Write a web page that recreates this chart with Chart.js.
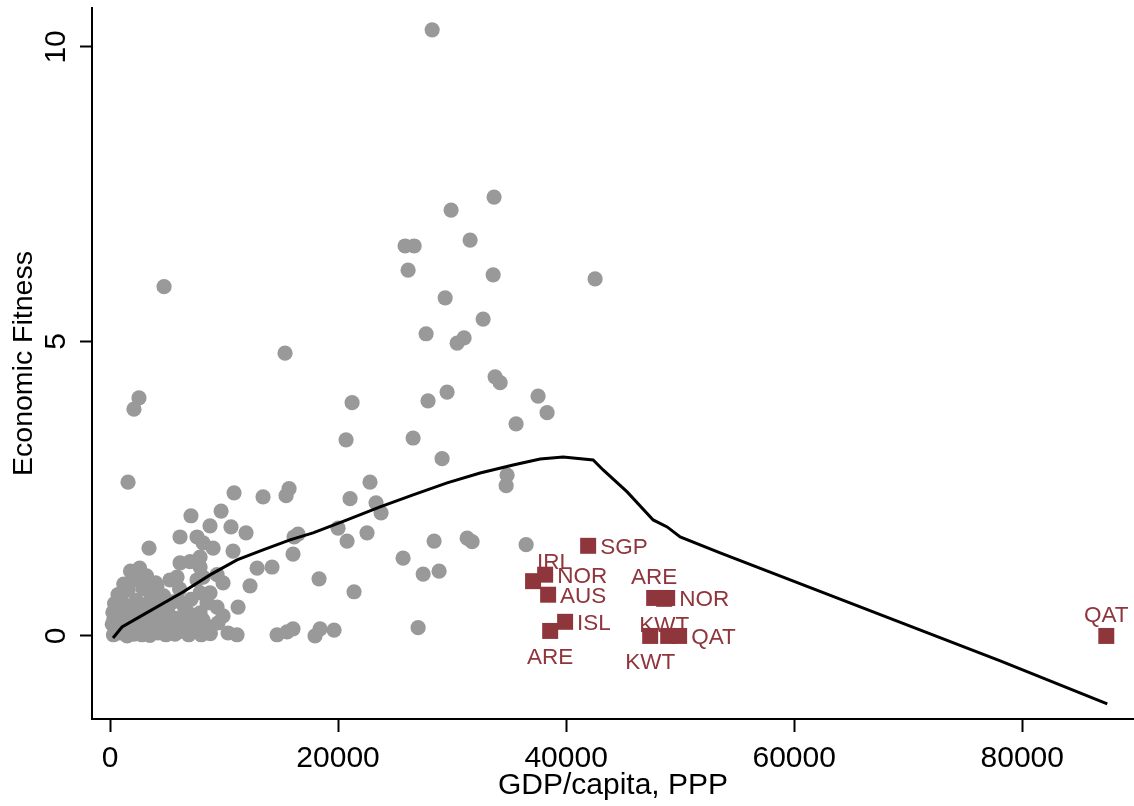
<!DOCTYPE html>
<html>
<head>
<meta charset="utf-8">
<script src="https://cdn.jsdelivr.net/npm/chart.js@4.4.1/dist/chart.umd.min.js"></script>
<style>
  html, body { margin: 0; padding: 0; background: #fff; }
  #wrap { width: 1134px; height: 806px; }
</style>
</head>
<body>
<div id="wrap"><canvas id="c" width="1134" height="806"></canvas></div>
<script>
// ---------- DATA ----------
const xTicks = [0, 20000, 40000, 60000, 80000];
const yTicks = [0, 5, 10];

// all countries (grey dots): GDP per capita PPP, Economic Fitness
const countryGdp = [
  28250, 33680, 29910, 31580, 25880, 26670, 26140, 33600, 42540, 4740,
  29390, 32720, 27720, 30440, 31050, 15350, 33770, 34210, 29560, 37540,
  2540, 27890, 21230, 2100, 38330, 35610, 26580, 20700, 29120, 34820,
  34740, 1580, 22800, 10880, 15700, 15440, 13420, 21050, 23330, 23770,
  9740, 7100, 8770, 10610, 20000, 11930, 22540, 6140, 7630, 16140,
  16490, 20790, 28420, 31320, 31750, 36490, 3420, 8160, 9040, 10790,
  16050, 25700, 12900, 14210, 27460, 28860, 18330, 21400, 12280, 11230,
  16050, 15530, 18420, 17980, 19650, 27020, 14650, 11140, 10350, 9390,
  9910, 7900, 7900, 6140, 7020, 5260, 5880, 4120, 7630, 8160,
  7900, 8770, 8510, 9390, 9910, 9470, 7900, 8160, 2370, 2900,
  2200,
  300, 350, 600, 500, 900, 1000, 1100, 1300, 1500, 1600,
  1700, 1900, 2000, 2100, 2300, 2400, 2600, 2700, 2800, 2900,
  3100, 3200, 3300, 3500, 3600, 3800, 4000, 4200, 4300, 4500,
  4700, 4900, 5100, 5300, 5500, 5700, 5900, 6100, 6300, 6500,
  6700, 6900, 7100, 7300, 7600, 8000, 8400, 8800, 1200, 1800,
  700, 400,
  200, 250, 800, 1400, 2500, 3000, 3900, 4600, 5400, 6000,
  7800, 6800
];
const countryFitness = [
  10.29, 7.45, 7.23, 6.72, 6.62, 6.62, 6.21, 6.13, 6.06, 5.93,
  5.74, 5.38, 5.13, 4.97, 5.06, 4.80, 4.40, 4.30, 4.14, 4.07,
  4.04, 3.99, 3.96, 3.85, 3.79, 3.60, 3.36, 3.33, 3.01, 2.73,
  2.55, 2.61, 2.61, 2.43, 2.50, 2.38, 2.36, 2.33, 2.26, 2.09,
  2.12, 2.04, 1.87, 1.85, 1.83, 1.75, 1.75, 1.68, 1.68, 1.68,
  1.73, 1.61, 1.61, 1.66, 1.60, 1.55, 1.49, 1.58, 1.49, 1.44,
  1.39, 1.32, 1.15, 1.17, 1.05, 1.10, 0.97, 0.75, 0.85, 0.49,
  0.12, 0.07, 0.12, 0.00, 0.10, 0.14, 0.02, 0.02, 0.05, 1.04,
  0.90, 1.34, 1.17, 1.24, 1.26, 0.95, 1.00, 0.83, 0.95, 1.00,
  0.73, 0.73, 0.56, 0.49, 0.34, 0.22, 0.39, 0.27, 1.09, 0.95,
  0.95,
  0.02, 0.30, 0.42, 0.15, 0.05, 0.62, 0.28, 0.50, 0.00, 0.78,
  0.18, 0.40, 0.95, 0.03, 0.60, 0.25, 1.15, 0.45, 0.02, 0.80,
  0.20, 1.02, 0.55, 0.01, 0.70, 0.35, 0.90, 0.05, 0.50, 0.22,
  0.68, 0.02, 0.40, 0.15, 0.58, 0.03, 0.30, 0.80, 0.08, 0.50,
  0.20, 0.02, 0.62, 0.35, 0.10, 0.02, 0.18, 0.04, 0.88, 1.10,
  0.70, 0.55,
  0.20, 0.40, 0.35, 0.15, 0.05, 0.38, 0.15, 0.35, 0.28, 0.60,
  0.25, 0.40
];

// highlighted countries (red squares)
const hlNames   = ['SGP', 'IRL', 'NOR', 'AUS', 'ISL', 'ARE', 'ARE', 'NOR', 'KWT', 'KWT', '', 'QAT', 'QAT'];
const hlGdp     = [41930, 37100, 38160, 38420, 39910, 38600, 47720, 48860, 48600, 47370, 48950, 49910, 87370];
const hlFitness = [1.53, 0.93, 1.04, 0.70, 0.24, 0.085, 0.645, 0.645, 0.63, 0.0, 0.0, 0.0, 0.0];
// label clock position (Stata style): 3 = right, 12 = above, 6 = below, 1 = upper right
const hlLabelClock = [3, 1, 3, 3, 3, 6, 12, 3, 6, 6, 3, 3, 12];

// fitted curve
const trendGdp = [263, 1053, 2895, 6404, 8772, 11140, 13421, 15789, 17807, 20789,
  23684, 26579, 29561, 32456, 35351, 37719, 39737, 42368, 43246, 45351,
  47632, 48860, 50000, 53509, 78070, 87456];
const trendFitness = [-0.034, 0.153, 0.357, 0.747, 1.036, 1.290, 1.460, 1.630, 1.749, 1.969,
  2.190, 2.394, 2.598, 2.767, 2.903, 3.005, 3.039, 2.988, 2.818, 2.445,
  1.969, 1.851, 1.681, 1.409, -0.424, -1.154];

// ---------- STYLE ----------
const RED = '#8f353c';
const GREY = '#999999';
const FONT = 'Liberation Sans';

const zip = (xs, ys) => xs.map((x, i) => ({ x: x, y: ys[i] }));

const labelPlugin = {
  id: 'hlLabels',
  afterDatasetsDraw(chart) {
    const meta = chart.getDatasetMeta(1);
    const ctx = chart.ctx;
    ctx.save();
    ctx.font = '22.5px "' + FONT + '"';
    ctx.fillStyle = RED;
    ctx.textBaseline = 'alphabetic';
    const capHalf = 8;
    meta.data.forEach((pt, i) => {
      const name = hlNames[i];
      if (!name) return;
      const pos = hlLabelClock[i];
      let x = pt.x, y = pt.y;
      if (pos === 3) { ctx.textAlign = 'left'; x += 12; y += capHalf; }
      else if (pos === 12) { ctx.textAlign = 'center'; y = y - 22 + capHalf; }
      else if (pos === 6) { ctx.textAlign = 'center'; y = y + 25 + capHalf; }
      else if (pos === 1) { ctx.textAlign = 'left'; x += 4; y = y - 20 + capHalf; }
      ctx.fillText(name, x, y);
    });
    ctx.restore();
  }
};

const noPad = s => { s.paddingTop = 0; s.paddingBottom = 0; s.paddingLeft = 0; s.paddingRight = 0; };

new Chart(document.getElementById('c'), {
  type: 'scatter',
  data: {
    datasets: [
      {
        type: 'line',
        data: zip(trendGdp, trendFitness),
        borderColor: '#000',
        borderWidth: 3,
        pointRadius: 0,
        tension: 0,
        fill: false,
        order: 0
      },
      {
        data: zip(hlGdp, hlFitness),
        pointStyle: 'rect',
        pointRadius: 11.3,
        backgroundColor: RED,
        borderWidth: 0,
        order: 1
      },
      {
        data: zip(countryGdp, countryFitness),
        pointStyle: 'circle',
        pointRadius: 7.6,
        backgroundColor: GREY,
        borderWidth: 0,
        order: 2
      }
    ]
  },
  options: {
    responsive: false,
    animation: false,
    events: [],
    layout: { autoPadding: false, padding: { top: 8, right: 0, left: 0, bottom: 0 } },
    plugins: { legend: { display: false }, tooltip: { enabled: false } },
    scales: {
      x: {
        type: 'linear',
        min: -1580,
        max: 89800,
        afterBuildTicks: s => { s.ticks = xTicks.map(v => ({ value: v })); },
        afterFit: s => { s.height = 87; noPad(s); },
        grid: { drawOnChartArea: false, drawTicks: true, tickLength: 13, tickWidth: 2, tickColor: '#000' },
        border: { display: true, color: '#000', width: 2 },
        ticks: {
          font: { family: FONT, size: 30 }, color: '#000', padding: 9,
          minRotation: 0, maxRotation: 0,
          callback: v => String(v)
        },
        title: {
          display: true, text: 'GDP/capita, PPP', color: '#000',
          font: { family: FONT, size: 30, lineHeight: 1.2 },
          padding: { top: 0, bottom: 2 }
        }
      },
      y: {
        type: 'linear',
        min: -1.41,
        max: 10.66,
        afterBuildTicks: s => { s.ticks = yTicks.map(v => ({ value: v })); },
        afterFit: s => { s.width = 92; noPad(s); },
        grid: { drawOnChartArea: false, drawTicks: true, tickLength: 12, tickWidth: 2, tickColor: '#000' },
        border: { display: true, color: '#000', width: 2 },
        ticks: {
          font: { family: FONT, size: 30 }, color: '#000',
          minRotation: 90, maxRotation: 90, crossAlign: 'center', padding: 7,
          callback: v => String(v)
        },
        title: {
          display: true, text: 'Economic Fitness', color: '#000',
          font: { family: FONT, size: 28.5, lineHeight: 1.2 },
          padding: { top: 7, bottom: 0 }
        }
      }
    }
  },
  plugins: [labelPlugin]
});
</script>
</body>
</html>
